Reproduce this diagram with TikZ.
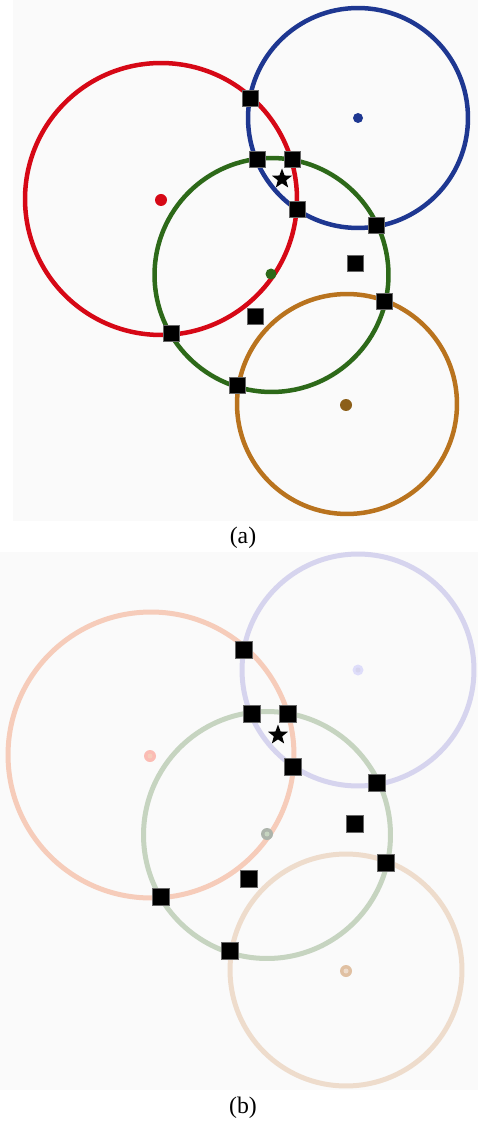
\documentclass[tikz,border=0pt]{standalone}
\usepackage{fontspec}
\setmainfont{Liberation Serif}
\usetikzlibrary{shapes.geometric}

\definecolor{panelbg}{RGB}{250,250,250}
% strong colours, panel (a)
\definecolor{redA}{RGB}{214,8,22}
\definecolor{blueA}{RGB}{30,55,145}
\definecolor{greenA}{RGB}{45,105,25}
\definecolor{orangeA}{RGB}{185,115,30}
\definecolor{orangeDot}{RGB}{140,95,25}
% faded colours, panel (b)
\definecolor{redB}{RGB}{246,204,186}
\definecolor{blueB}{RGB}{214,212,238}
\definecolor{greenB}{RGB}{198,212,192}
\definecolor{orangeB}{RGB}{238,220,204}

\tikzset{
  ringA/.style={line width=0.09cm},
  ringB/.style={line width=0.1cm},
  beacon/.style={fill=black, draw=black!60, line width=0.3pt, minimum size=0.32cm, inner sep=0pt},
  target/.style={star, star points=5, star point ratio=2.4, fill=black, inner sep=0pt, minimum size=0.42cm},
  caption/.style={font=\fontsize{13.5}{16}\selectfont}
}

\begin{document}
\begin{tikzpicture}[x=0.02cm,y=-0.02cm]
	\useasboundingbox[fill=white] (0,0) rectangle (478,1124);
	\fill[panelbg] (13,0) rectangle (478,521);
	\fill[panelbg] (0,552) rectangle (478,1090);

	% (a)
	\draw[ringA, redA] (161,199) circle (2.72cm);
	\draw[ringA, blueA] (358,118) circle (2.2cm);
	\draw[ringA, orangeA] (347,404) circle (2.2cm);
	\draw[ringA, greenA] (271.5,275) circle (2.34cm);

	\fill[redA] (161,200) circle (0.12cm);
	\fill[blueA] (358,118) circle (0.1cm);
	\fill[greenA] (271,274) circle (0.11cm);
	\fill[orangeDot] (346,405) circle (0.12cm);

	\node[beacon] (a1) at (250,98) {};
	\node[beacon] (a2) at (257,159) {};
	\node[beacon] (a3) at (292,159) {};
	\node[beacon] (a4) at (297,209) {};
	\node[beacon] (a5) at (376,225) {};
	\node[beacon] (a6) at (355,263) {};
	\node[beacon] (a7) at (384,301) {};
	\node[beacon] (a8) at (255,316) {};
	\node[beacon] (a9) at (171,333) {};
	\node[beacon] (a10) at (237,385) {};
	\node[target] (sa) at (282,179) {};

	\node[caption] (capa) at (243,538) {(a)};

	% (b)
	\draw[ringB, redB] (151,755) circle (2.86cm);
	\draw[ringB, blueB] (358,670) circle (2.32cm);
	\draw[ringB, orangeB] (346,970) circle (2.32cm);
	\draw[ringB, greenB] (267,835) circle (2.47cm);

	\fill[redB!70!red!60] (150,756) circle (0.12cm);
	\fill[redB] (150,756) circle (0.05cm);
	\fill[blueB!80!blue!40] (358,670) circle (0.11cm);
	\fill[blueB] (358,670) circle (0.05cm);
	\fill[greenB!70!black!70] (267,834) circle (0.12cm);
	\fill[greenB] (267,834) circle (0.05cm);
	\fill[orangeB!70!brown] (346,971) circle (0.12cm);
	\fill[orangeB] (346,971) circle (0.05cm);

	\node[beacon, minimum size=0.34cm] (b1) at (244,650) {};
	\node[beacon, minimum size=0.34cm] (b2) at (252,714) {};
	\node[beacon, minimum size=0.34cm] (b3) at (288,714) {};
	\node[beacon, minimum size=0.34cm] (b4) at (293,767) {};
	\node[beacon, minimum size=0.34cm] (b5) at (377,783) {};
	\node[beacon, minimum size=0.34cm] (b6) at (355,824) {};
	\node[beacon, minimum size=0.34cm] (b7) at (386,863) {};
	\node[beacon, minimum size=0.34cm] (b8) at (249,879) {};
	\node[beacon, minimum size=0.34cm] (b9) at (161,897) {};
	\node[beacon, minimum size=0.34cm] (b10) at (230,951) {};
	\node[target] (sb) at (278,735) {};

	\node[caption] (capb) at (243,1108) {(b)};
\end{tikzpicture}
\end{document}
